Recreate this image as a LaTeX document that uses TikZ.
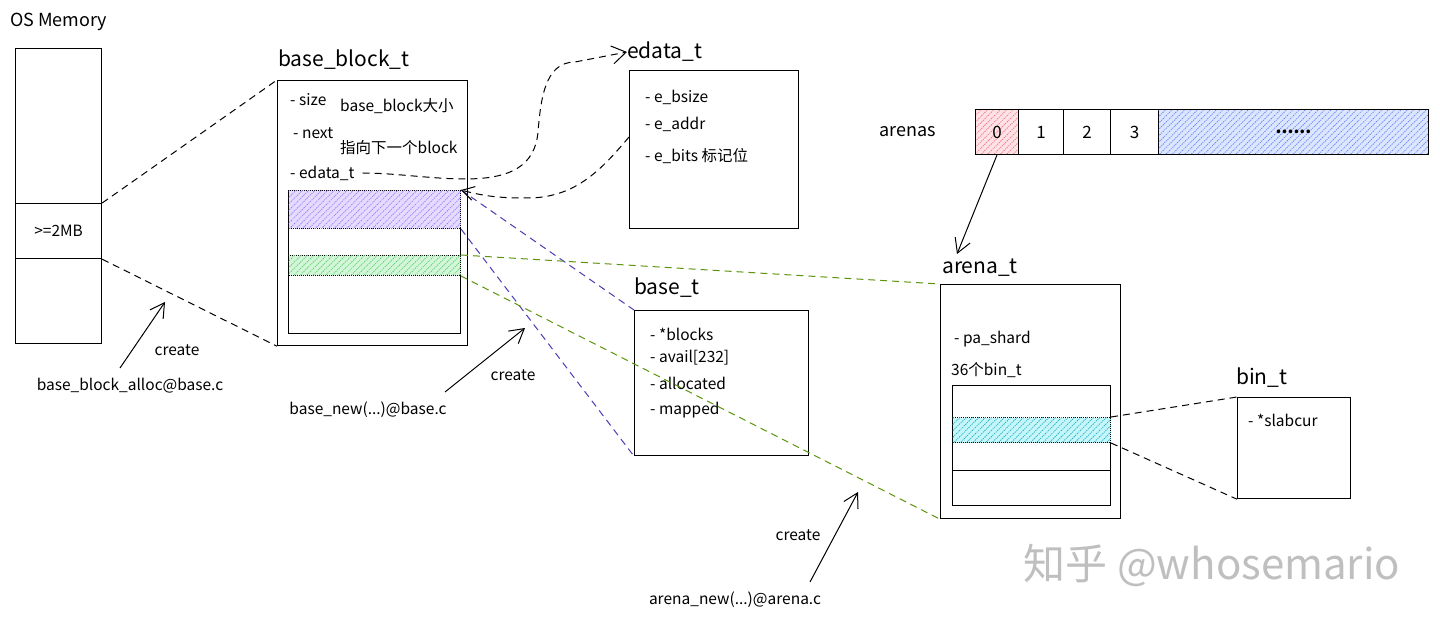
\documentclass[tikz,border=0pt]{standalone}
\usepackage{fontspec}
\setmainfont{Noto Sans CJK SC}
\usepackage{xcolor}
\usetikzlibrary{arrows.meta,positioning,patterns.meta,calc}
\definecolor{VioletFill}{HTML}{E4DBFF}
\definecolor{VioletLine}{HTML}{9775FA}
\definecolor{VioletLink}{HTML}{4C3DB5}
\definecolor{GreenFill}{HTML}{D3F5D8}
\definecolor{GreenLine}{HTML}{51CF66}
\definecolor{GreenLink}{HTML}{5C940D}
\definecolor{PinkFill}{HTML}{FFE3E3}
\definecolor{PinkLine}{HTML}{F06595}
\definecolor{BlueFill}{HTML}{DDE6FF}
\definecolor{BlueLine}{HTML}{5C7CFA}
\definecolor{CyanFill}{HTML}{C5F6FA}
\definecolor{CyanLine}{HTML}{15AABF}

\begin{document}
\begin{tikzpicture}[x=1pt, y=-1pt,
	box/.style={draw, line width=1.2pt, anchor=north west, inner sep=0pt},
	title/.style={anchor=west, inner sep=0pt, font=\fontsize{21}{24}\selectfont},
	field/.style={anchor=west, inner sep=0pt, font=\fontsize{15.5}{18}\selectfont},
	note/.style={inner sep=0pt, font=\fontsize{15.5}{18}\selectfont},
	link/.style={line width=1pt, dash pattern=on 7pt off 5pt},
	arrow/.style={line width=1pt, -{Straight Barb[length=14pt,width=16pt]}},
	hatch/.style 2 args={draw, line width=1pt, densely dotted, fill=#1, postaction={pattern={Lines[angle=45, distance=4.5pt, line width=0.7pt]}, pattern color=#2}}
]
\fill[white] (0,0) rectangle (1440,620);
\useasboundingbox (0,0) rectangle (1440,620);

% OS memory
\node[title, font=\fontsize{18}{20}\selectfont] (ostitle) at (10,22) {OS Memory};
\node[box, minimum width=86, minimum height=295] (osmem) at (15,48) {};
\node[box, minimum width=86, minimum height=55, font=\fontsize{15.5}{18}\selectfont] (chunk) at (15,203) {>=2MB};

% base_block_t
\node[title] (bbtitle) at (278,60) {base\_block\_t};
\node[box, minimum width=190, minimum height=265] (bblock) at (277,80) {};
\node[field] (bsize) at (290,100) {- size};
\node[field] (bsizec) at (340,106) {base\_block大小};
\node[field] (bnext) at (293,133) {- next};
\node[field] (bnextc) at (340,148) {指向下一个block};
\node[field] (bedata) at (290,173) {- edata\_t};
\node[box, minimum width=172, minimum height=143] (bframe) at (288,190) {};
\node[box, hatch={VioletFill}{VioletLine}, minimum width=172, minimum height=38] (eband) at (288,190) {};
\node[box, hatch={GreenFill}{GreenLine}, minimum width=172, minimum height=20] (gband) at (288,255) {};

% edata_t
\node[title] (edtitle) at (627,52) {edata\_t};
\node[box, minimum width=169, minimum height=158] (edata) at (629,70) {};
\node[field] (ebsize) at (645,97) {- e\_bsize};
\node[field] (eaddr) at (645,124) {- e\_addr};
\node[field] (ebits) at (645,156) {- e\_bits 标记位};

% base_t
\node[title] (btitle) at (634,288) {base\_t};
\node[box, minimum width=174, minimum height=145] (base) at (634,310) {};
\node[field] (bblocks) at (650,334) {- *blocks};
\node[field] (bavail) at (650,358) {- avail[232]};
\node[field] (balloc) at (650,383) {- allocated};
\node[field] (bmapped) at (650,410) {- mapped};

% arenas
\node[title, font=\fontsize{18}{20}\selectfont] (arlabel) at (879,132) {arenas};
\node[box, hatch={PinkFill}{PinkLine}, minimum width=43, minimum height=45, font=\fontsize{17}{20}\selectfont] (cell0) at (975,109) {0};
\node[box, minimum width=45, minimum height=45, font=\fontsize{17}{20}\selectfont] (cell1) at (1018,109) {1};
\node[box, minimum width=47, minimum height=45, font=\fontsize{17}{20}\selectfont] (cell2) at (1063,109) {2};
\node[box, minimum width=48, minimum height=45, font=\fontsize{17}{20}\selectfont] (cell3) at (1110,109) {3};
\node[box, hatch={BlueFill}{BlueLine}, minimum width=270, minimum height=45, font=\fontsize{17}{20}\selectfont\bfseries] (cellmore) at (1158,109) {......};
\node[box, minimum width=453, minimum height=45] (arenas) at (975,109) {};

% arena_t
\node[title] (atitle) at (942,268) {arena\_t};
\node[box, minimum width=180, minimum height=234] (arena) at (940,284) {};
\node[field] (ashard) at (954,339) {- pa\_shard};
\node[field] (abins) at (951,370) {36个bin\_t};
\node[box, minimum width=158, minimum height=120] (aframe) at (952,385) {};
\node[box, hatch={CyanFill}{CyanLine}, minimum width=158, minimum height=25] (cband) at (952,417) {};
\node[box, minimum width=158, minimum height=35] (alow) at (952,470) {};

% bin_t
\node[title] (bintitle) at (1236,378) {bin\_t};
\node[box, minimum width=113, minimum height=101] (bin) at (1237,397) {};
\node[field] (bslab) at (1248,420) {- *slabcur};

% creators
\node[note] (mk1) at (177,350) {create};
\node[note] (fn1) at (130,386) {base\_block\_alloc@base.c};
\node[note] (mk2) at (513,375) {create};
\node[note] (fn2) at (368,410) {base\_new(...)@base.c};
\node[note] (mk3) at (798,535) {create};
\node[note] (fn3) at (735,600) {arena\_new(...)@arena.c};
\coordinate (c1s) at (120,368);
\coordinate (c1t) at (165,302);
\coordinate (c2s) at (445,392);
\coordinate (c2t) at (525,328);
\coordinate (c3s) at (810,582);
\coordinate (c3t) at (858,492);
\coordinate (atip) at (957,254);

\node[inner sep=0pt, text=gray!50, font=\fontsize{42}{46}\selectfont] (wm) at (1212,565) {知乎 @whosemario};

% connectors
\draw[link] (chunk.north east) -- (bblock.north west);
\draw[link] (chunk.south east) -- (bblock.south west);
\draw[link, VioletLink] (eband.north east) -- (base.north west);
\draw[link, VioletLink] (eband.south east) -- (base.south west);
\draw[link, GreenLink] (gband.north east) -- (arena.north west);
\draw[link, GreenLink] (gband.south east) -- (arena.south west);
\draw[link] (cband.north east) -- (bin.north west);
\draw[link] (cband.south east) -- (bin.south west);
\draw[link, -{Straight Barb[length=14pt,width=18pt]}] ($(bedata.east)+(8,0)$) to[out=0,in=-95] (538,132) to[out=85,in=180] (575,62) -- (edtitle.west);
\draw[link, -{Straight Barb[length=12pt,width=14pt]}] ($(edata.north west)+(0,67)$) to[out=-130,in=0] (527,198) to[out=180,in=-15] (eband.north east);
\draw[arrow] (cell0.south) -- (atip);
\draw[arrow] (c1s) -- (c1t);
\draw[arrow] (c2s) -- (c2t);
\draw[arrow] (c3s) -- (c3t);
\end{tikzpicture}
\end{document}
